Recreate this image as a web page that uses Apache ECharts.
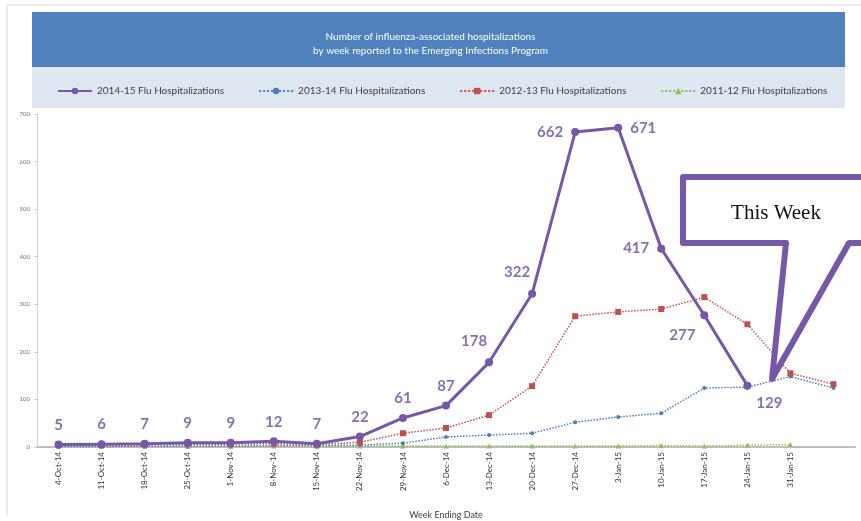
<!DOCTYPE html>
<html>
<head>
<meta charset="utf-8">
<script src="https://cdn.jsdelivr.net/npm/echarts@6/dist/echarts.min.js"></script>
<style>
html,body{margin:0;padding:0;background:#fff;}
#c{width:861px;height:521px;}
</style>
</head>
<body>
<div id="c"></div>
<script>
var categories = ['4-Oct-14','11-Oct-14','18-Oct-14','25-Oct-14','1-Nov-14','8-Nov-14','15-Nov-14','22-Nov-14','29-Nov-14','6-Dec-14','13-Dec-14','20-Dec-14','27-Dec-14','3-Jan-15','10-Jan-15','17-Jan-15','24-Jan-15','31-Jan-15',''];
var flu1415 = [5,6,7,9,9,12,7,22,61,87,178,322,662,671,417,277,129,null,null];
var flu1314 = [1,1,2,2,2,3,3,4,8,21,25,29,52,63,71,124,126,148,124];
var flu1213 = [5,4,5,6,6,7,5,10,29,40,67,128,275,284,290,315,258,155,132];
var flu1112 = [1,1,1,1,1,2,1,2,2,2,2,2,2,2,3,2,4,5,null];
var labelPos = ['top','top','top','top','top','top','top','top','top','top','tl','tl','left','right','left','bl','br',null,null];
var yTicks = [0,100,200,300,400,500,600,700];
var names = ['2014-15 Flu Hospitalizations','2013-14 Flu Hospitalizations','2012-13 Flu Hospitalizations','2011-12 Flu Hospitalizations'];

var purple = '#7657a8';
var labelColor = '#8671b3';
function posFor(p){
  if(p==='tl') return {position:'top', offset:[-15,-2]};
  if(p==='bl') return {position:'bottom', offset:[-22,0]};
  if(p==='br') return {position:'bottom', offset:[22,-2]};
  return {position:p};
}
var purpleData = flu1415.map(function(v,i){
  var lp = labelPos[i] ? posFor(labelPos[i]) : {};
  return {value:v, label:lp};
});

var chart = echarts.init(document.getElementById('c'));
chart.setOption({
  backgroundColor:'#fff',
  animation:false,
  graphic:[
    {type:'line', shape:{x1:7,y1:5,x2:861,y2:5}, style:{stroke:'#d9d9d9',lineWidth:1}, z:-1},
    {type:'line', shape:{x1:7,y1:5,x2:7,y2:516}, style:{stroke:'#d9d9d9',lineWidth:1}, z:-1},
    {type:'rect', shape:{x:32,y:12,width:813,height:55}, style:{fill:'#4f81bd'}, z:-1},
    {type:'rect', shape:{x:32,y:67,width:813,height:41}, style:{fill:'#dde6f1'}, z:-1},
    {type:'polygon', shape:{points:[[683,177],[880,177],[880,243],[849,243],[772,379],[786,243],[683,243]]},
     style:{fill:'#fff',stroke:purple,lineWidth:6,lineJoin:'round'}, z:50},
    {type:'text', x:776, y:213, style:{text:'This Week', font:'21px "Liberation Serif"', fill:'#111', align:'center', verticalAlign:'middle'}, z:51}
  ],
  title:{
    text:'Number of influenza-associated hospitalizations\nby week reported to the Emerging Infections Program',
    left:'center', top:25,
    textStyle:{color:'#fff', fontSize:10, fontWeight:'normal', fontFamily:'Lato', lineHeight:14}
  },
  legend:{
    top:81, left:52, itemGap:34, itemWidth:34, itemHeight:8,
    textStyle:{fontSize:10, color:'#404040', fontFamily:'Lato'},
    data:names
  },
  grid:{left:37, right:6, top:114, bottom:74, containLabel:false, outerBoundsMode:'none'},
  xAxis:{
    type:'category', data:categories, boundaryGap:true,
    name:'Week Ending Date', nameLocation:'middle', nameGap:64,
    nameTextStyle:{fontSize:9, color:'#404040', fontFamily:'Lato'},
    axisLine:{lineStyle:{color:'#bfbfbf', width:2}},
    axisTick:{show:false},
    axisLabel:{rotate:90, fontSize:8, color:'#333', interval:0, margin:5, fontFamily:'Lato'}
  },
  yAxis:{
    type:'value', min:0, max:700, interval:100,
    axisLine:{show:true, lineStyle:{color:'#d0d0d0'}},
    axisTick:{show:true, length:3, lineStyle:{color:'#d0d0d0'}},
    splitLine:{show:false},
    axisLabel:{fontSize:6, color:'#707070', margin:7, fontFamily:'Lato'}
  },
  series:[
    {name:names[0], type:'line', data:purpleData, z:10,
     lineStyle:{color:purple, width:3}, itemStyle:{color:purple},
     symbol:'circle', symbolSize:8, showAllSymbol:true,
     label:{show:true, color:labelColor, fontSize:15, fontWeight:'bold', fontFamily:'Lato', distance:8}},
    {name:names[1], type:'line', data:flu1314, z:5,
     lineStyle:{color:'#4a7ebb', width:1.5, type:'dotted'}, itemStyle:{color:'#4a7ebb'},
     symbol:'circle', symbolSize:4, showAllSymbol:true},
    {name:names[2], type:'line', data:flu1213, z:6,
     lineStyle:{color:'#c0504d', width:1.5, type:'dotted'}, itemStyle:{color:'#c0504d'},
     symbol:'rect', symbolSize:6, showAllSymbol:true},
    {name:names[3], type:'line', data:flu1112, z:4,
     lineStyle:{color:'#9bbb59', width:1.5, type:'dotted'}, itemStyle:{color:'#9bbb59'},
     symbol:'triangle', symbolSize:5, showAllSymbol:true}
  ]
});
</script>
</body>
</html>
